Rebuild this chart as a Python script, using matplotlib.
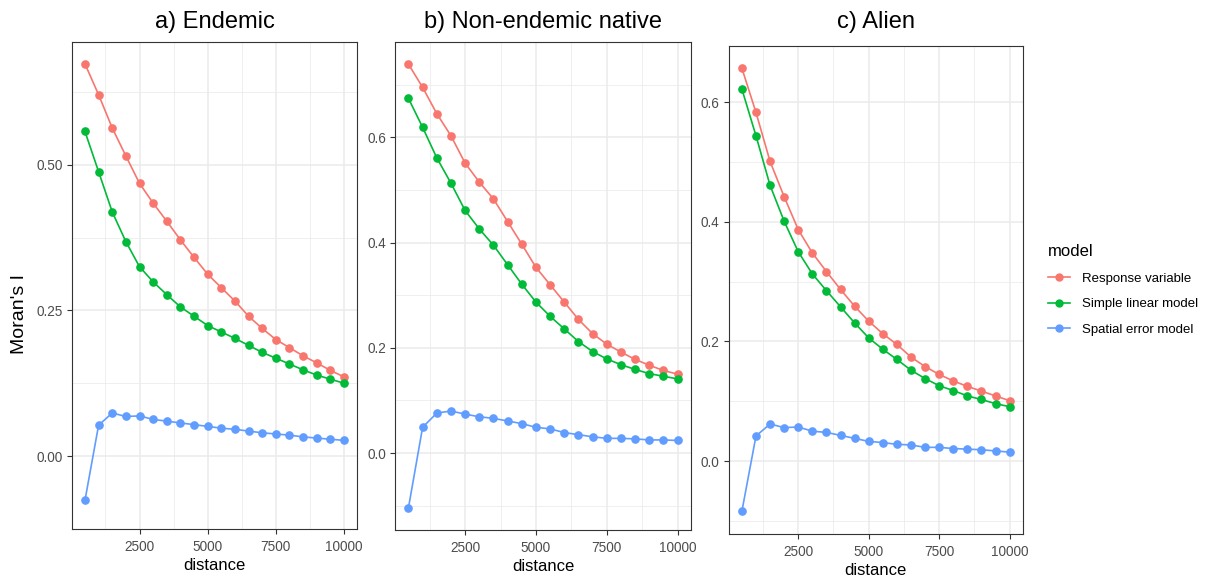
import numpy as np
import matplotlib
matplotlib.use("Agg")
import matplotlib.pyplot as plt
from matplotlib.lines import Line2D

plt.rcParams['font.family'] = ['Liberation Sans', 'DejaVu Sans']

distance = np.arange(500, 10001, 500)

# a) Endemic
end_resp = [0.673, 0.620, 0.563, 0.515, 0.468, 0.434, 0.403, 0.371, 0.341, 0.312,
            0.289, 0.266, 0.240, 0.219, 0.200, 0.186, 0.172, 0.160, 0.147, 0.136]
end_lm = [0.557, 0.488, 0.419, 0.368, 0.325, 0.299, 0.277, 0.256, 0.240, 0.224,
          0.213, 0.202, 0.190, 0.178, 0.168, 0.158, 0.148, 0.139, 0.132, 0.125]
end_sem = [-0.076, 0.053, 0.074, 0.068, 0.069, 0.063, 0.060, 0.057, 0.054, 0.051,
           0.048, 0.046, 0.043, 0.040, 0.038, 0.036, 0.033, 0.031, 0.029, 0.027]

# b) Non-endemic native
nat_resp = [0.739, 0.695, 0.645, 0.603, 0.551, 0.515, 0.483, 0.440, 0.397, 0.353,
            0.320, 0.287, 0.254, 0.227, 0.207, 0.192, 0.178, 0.167, 0.157, 0.150]
nat_lm = [0.674, 0.619, 0.561, 0.513, 0.461, 0.426, 0.395, 0.358, 0.321, 0.287,
          0.260, 0.236, 0.212, 0.193, 0.179, 0.168, 0.159, 0.151, 0.146, 0.141]
nat_sem = [-0.104, 0.049, 0.076, 0.080, 0.074, 0.069, 0.066, 0.061, 0.056, 0.049,
           0.046, 0.039, 0.035, 0.031, 0.028, 0.028, 0.027, 0.025, 0.025, 0.024]

# c) Alien
ali_resp = [0.657, 0.583, 0.501, 0.442, 0.387, 0.348, 0.317, 0.287, 0.259, 0.234,
            0.213, 0.195, 0.174, 0.158, 0.145, 0.134, 0.125, 0.117, 0.109, 0.101]
ali_lm = [0.622, 0.544, 0.461, 0.401, 0.350, 0.313, 0.285, 0.258, 0.231, 0.206,
          0.187, 0.170, 0.152, 0.138, 0.126, 0.118, 0.109, 0.103, 0.096, 0.091]
ali_sem = [-0.084, 0.042, 0.062, 0.056, 0.057, 0.050, 0.048, 0.043, 0.038, 0.033,
           0.031, 0.028, 0.027, 0.023, 0.023, 0.021, 0.020, 0.019, 0.017, 0.015]

models = ["Response variable", "Simple linear model", "Spatial error model"]
colors = ["#F8766D", "#00BA38", "#619CFF"]

# title, series, y ticks, tick format, box in pixels (left, top, right, bottom)
panels = [
    ("a) Endemic", [end_resp, end_lm, end_sem], [0.0, 0.25, 0.50], "%.2f", (72, 42, 357, 529)),
    ("b) Non-endemic native", [nat_resp, nat_lm, nat_sem], [0.0, 0.2, 0.4, 0.6], "%.1f", (395, 42, 691, 530)),
    ("c) Alien", [ali_resp, ali_lm, ali_sem], [0.0, 0.2, 0.4, 0.6], "%.1f", (728.5, 46, 1023, 533.5)),
]

W, H = 1210, 576
fig = plt.figure(figsize=(W / 100, H / 100), dpi=100, facecolor="white")

for title, series, yticks, fmt, (x0, y0, x1, y1) in panels:
    ax = fig.add_axes([x0 / W, (H - y1) / H, (x1 - x0) / W, (y1 - y0) / H])
    for vals, col in zip(series, colors):
        ax.plot(distance, vals, color=col, lw=1.2, marker="o", ms=5.2, zorder=3)

    # 5% expansion on each side, like ggplot
    allv = np.concatenate([np.asarray(s) for s in series])
    lo, hi = allv.min(), allv.max()
    pad = 0.05 * (hi - lo)
    ax.set_ylim(lo - pad, hi + pad)
    xpad = 0.05 * (distance.max() - distance.min())
    ax.set_xlim(distance.min() - xpad, distance.max() + xpad)

    step = yticks[1] - yticks[0]
    ax.set_yticks(yticks)
    ax.set_yticklabels([fmt % v for v in yticks])
    ax.set_yticks(np.arange(yticks[0] - step / 2, hi + pad, step), minor=True)
    ax.set_xticks([2500, 5000, 7500, 10000])
    ax.set_xticks([1250, 3750, 6250, 8750], minor=True)

    ax.grid(which="major", color="#EBEBEB", lw=1.1, zorder=0)
    ax.grid(which="minor", color="#EBEBEB", lw=0.55, zorder=0)
    ax.set_axisbelow(True)
    ax.tick_params(which="major", direction="out", length=3.5, width=0.8,
                   color="#333333", labelcolor="#4D4D4D", labelsize=9.8, pad=4.5)
    ax.tick_params(axis="y", which="major", pad=3)
    ax.tick_params(which="minor", length=0)
    for sp in ax.spines.values():
        sp.set_color("#333333")
        sp.set_linewidth(0.8)

    # titles share one baseline across panels
    ax.set_title(title, fontsize=17, pad=(y0 - 28.3) * 0.72)
    ax.set_xlabel("distance", fontsize=12, labelpad=3)

fig.text(19 / W, (H - 314) / H, "Moran's I", rotation=90, fontsize=14,
         ha="center", va="center")

handles = [Line2D([], [], color=c, lw=1.2, marker="o", ms=5) for c in colors]
leg = fig.legend(handles, models, title="model", loc="center left",
                 bbox_to_anchor=(1036 / W, (H - 290) / H), frameon=False,
                 fontsize=9.5, title_fontsize=12, labelspacing=1.0,
                 handlelength=1.7, handletextpad=0.9, alignment="left")

fig.savefig("out.png", dpi=100, facecolor="white")
